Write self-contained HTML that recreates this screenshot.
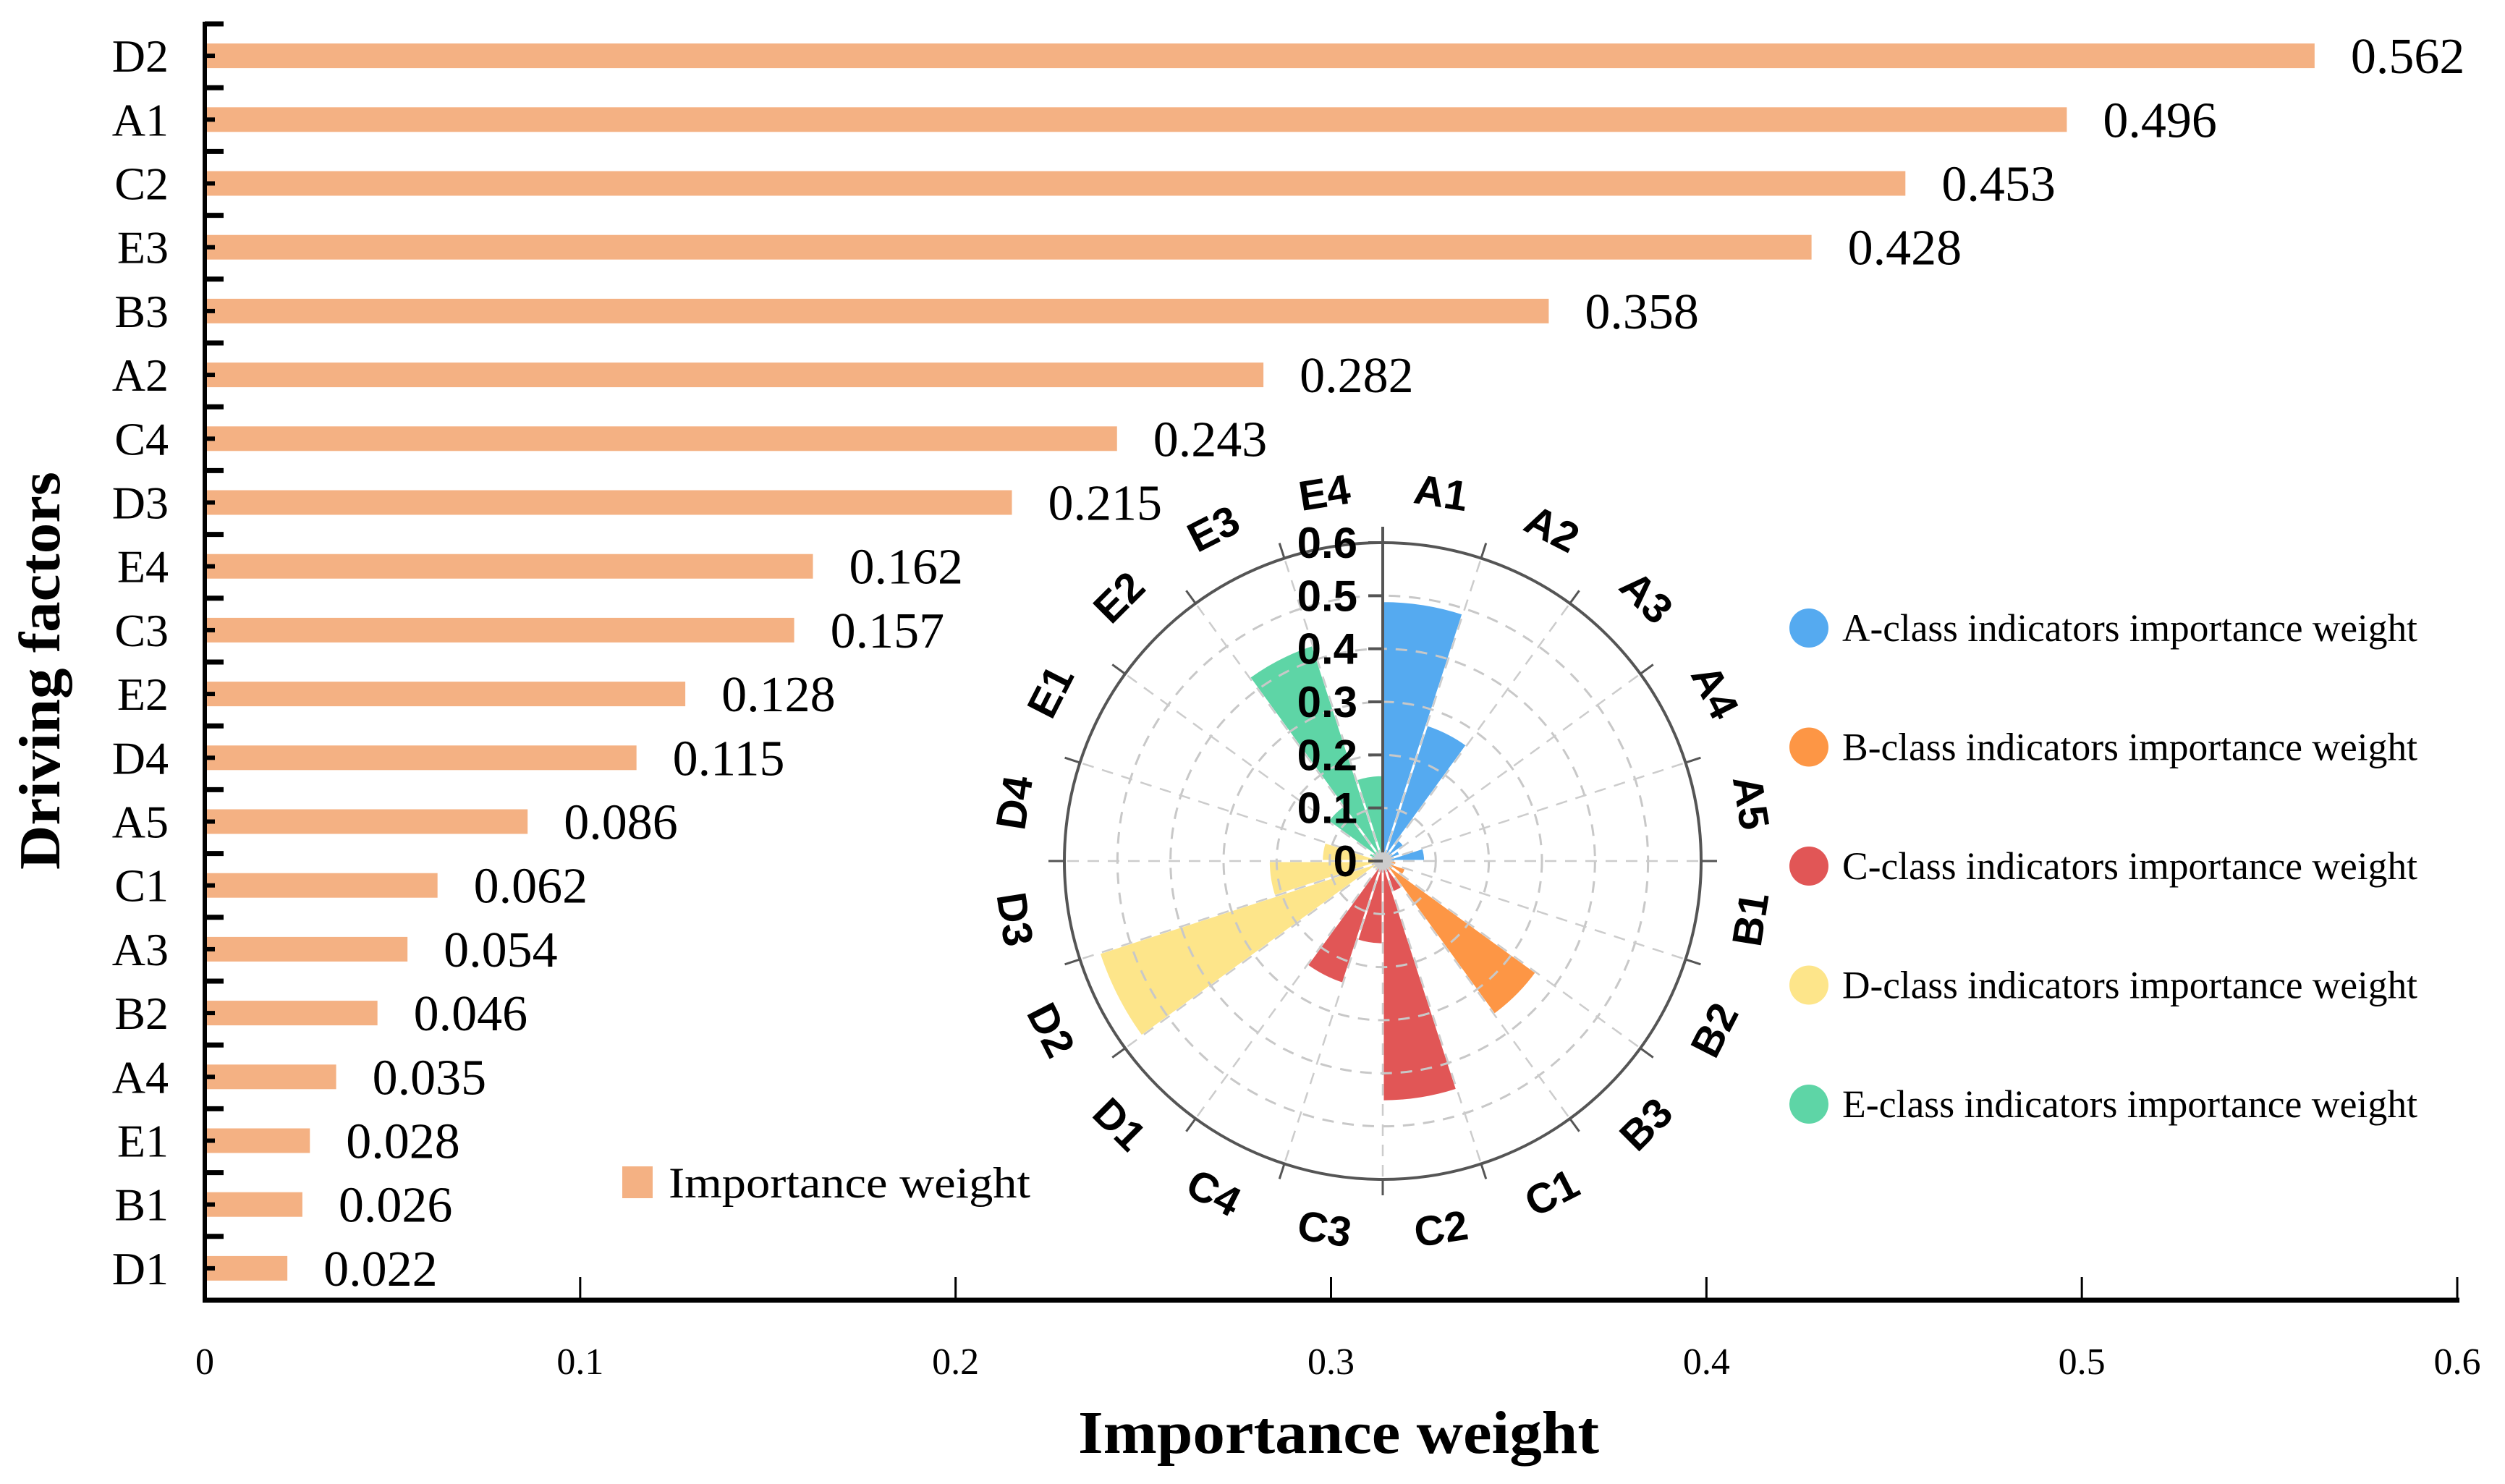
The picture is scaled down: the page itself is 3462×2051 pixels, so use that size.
<!DOCTYPE html>
<html><head><meta charset="utf-8"><style>
html,body{margin:0;padding:0;background:#fff}
svg{display:block}
</style></head><body>
<svg id="chart" width="3462" height="2051" viewBox="0 0 3462 2051" xmlns="http://www.w3.org/2000/svg">
<rect width="3462" height="2051" fill="#fff"/>
<g id="bars"></g>
<g id="polar"></g>
<g id="legend"></g>
</svg>
<script>
const categories = ["D2","A1","C2","E3","B3","A2","C4","D3","E4","C3","E2","D4","A5","C1","A3","B2","A4","E1","B1","D1"];
const values = [0.562,0.496,0.453,0.428,0.358,0.282,0.243,0.215,0.162,0.157,0.128,0.115,0.086,0.062,0.054,0.046,0.035,0.028,0.026,0.022];
const xTicks = [0,0.1,0.2,0.3,0.4,0.5,0.6];
const xTickLabels = ["0","0.1","0.2","0.3","0.4","0.5","0.6"];
const polarCategories = ["A1","A2","A3","A4","A5","B1","B2","B3","C1","C2","C3","C4","D1","D2","D3","D4","E1","E2","E3","E4"];
const polarValues = [0.49,0.27,0.05,0.035,0.08,0.026,0.046,0.358,0.062,0.453,0.157,0.243,0.022,0.562,0.215,0.115,0.028,0.128,0.428,0.162];
const rTicks = [0,0.1,0.2,0.3,0.4,0.5,0.6];
const rTickLabels = ["0","0.1","0.2","0.3","0.4","0.5","0.6"];
const legendLabels = ["A-class indicators importance weight","B-class indicators importance weight","C-class indicators importance weight","D-class indicators importance weight","E-class indicators importance weight"];
const classColors = {A:"#55aaf0",B:"#fd9645",C:"#e15656",D:"#fde58a",E:"#5ed5a6"};

const NS="http://www.w3.org/2000/svg";
function mk(parent,tag,attrs,text){const e=document.createElementNS(NS,tag);for(const k in attrs)e.setAttribute(k,attrs[k]);if(text!==undefined)e.textContent=text;parent.appendChild(e);return e;}

// ---- bar chart ----
const X0=283, X1=3396, Y0=33, Y1=1797;
const xMax=0.6;
const xs=v=>X0+(v/xMax)*(X1-X0);
const band=(Y1-Y0)/categories.length;
const ys=i=>Y0+band*(i+0.5);
const gB=document.getElementById('bars');
const serif='"Liberation Serif", serif';

categories.forEach((c,i)=>{
  const b=mk(gB,'rect',{x:X0,y:ys(i)-17,width:xs(values[i])-X0,height:34,fill:'#f4b183'});
  
  
  const v=mk(gB,'text',{x:xs(values[i])+50,y:ys(i)+24,'font-family':serif,'font-size':70,fill:'#000'},values[i].toFixed(3));
  
  
  const l=mk(gB,'text',{x:233,y:ys(i)+22,'text-anchor':'end','font-family':serif,'font-size':64,fill:'#000'},c);
  
  
  const t=mk(gB,'line',{x1:X0,x2:X0+14,y1:ys(i),y2:ys(i),stroke:'#000','stroke-width':6});
  
  
});
for(let i=0;i<categories.length;i++){
  const yy=Y0+band*i;
  const t=mk(gB,'line',{x1:X0,x2:X0+26,y1:yy,y2:yy,stroke:'#000','stroke-width':7});
  
  
}
const ya=mk(gB,'line',{x1:X0,x2:X0,y1:Y0-3,y2:Y1+3,stroke:'#000','stroke-width':6});


const xa=mk(gB,'line',{x1:X0-3,x2:X1+3,y1:Y1,y2:Y1,stroke:'#000','stroke-width':7});


xTicks.forEach((v,i)=>{
  const t=mk(gB,'line',{x1:xs(v),x2:xs(v),y1:Y1,y2:Y1-32,stroke:'#000','stroke-width':3});
  
  
  const l=mk(gB,'text',{x:xs(v),y:1899,'text-anchor':'middle','font-family':serif,'font-size':52,fill:'#000'},xTickLabels[i]);
  
  
});
const xt=mk(gB,'text',{x:1850,y:2008,'text-anchor':'middle','font-family':serif,'font-size':84,'font-weight':'bold',fill:'#000',textLength:720,lengthAdjust:'spacingAndGlyphs'},'Importance weight');


const yt=mk(gB,'text',{x:0,y:0,'text-anchor':'middle','font-family':serif,'font-size':80,'font-weight':'bold',fill:'#000',textLength:550,lengthAdjust:'spacingAndGlyphs',transform:'translate(82,927) rotate(-90)'},'Driving factors');


const lr=mk(gB,'rect',{x:860,y:1612,width:42,height:44,fill:'#f4b183'});


const lt=mk(gB,'text',{x:924,y:1655,'font-family':serif,'font-size':60,fill:'#000',textLength:500,lengthAdjust:'spacingAndGlyphs'},'Importance weight');



// ---- polar chart ----
const CX=1911, CY=1190, R=440, rMax=0.6;
const gP=document.getElementById('polar');
const n=polarCategories.length, step=360/n;
const rs=v=>v/rMax*R;
const pt=(deg,r)=>{const a=deg*Math.PI/180;return [CX+r*Math.sin(a),CY-r*Math.cos(a)];};
polarCategories.forEach((c,i)=>{
  const a0=i*step, a1=(i+1)*step, r=rs(polarValues[i]);
  const p0=pt(a0,r), p1=pt(a1,r);
  const w=mk(gP,'path',{d:`M${CX},${CY} L${p0[0]},${p0[1]} A${r},${r} 0 0 1 ${p1[0]},${p1[1]} Z`,fill:classColors[c[0]],stroke:'#fff','stroke-width':3});
  
  
});
rTicks.slice(1,-1).forEach(v=>{
  const c=mk(gP,'circle',{cx:CX,cy:CY,r:rs(v),fill:'none',stroke:'#c8c8c8','stroke-width':3,'stroke-dasharray':'16 12'});
  
  
});
for(let i=0;i<n;i++){
  const p=pt(i*step,R);
  const l=mk(gP,'line',{x1:CX,y1:CY,x2:p[0],y2:p[1],stroke:'#cccccc','stroke-width':2.5,'stroke-dasharray':'16 12'});
  
  
  const q0=pt(i*step,R), q1=pt(i*step,R+22);
  const t=mk(gP,'line',{x1:q0[0],y1:q0[1],x2:q1[0],y2:q1[1],stroke:'#555','stroke-width':3});
  
  
}
const oc=mk(gP,'circle',{cx:CX,cy:CY,r:R,fill:'none',stroke:'#555','stroke-width':4});


const ra=mk(gP,'line',{x1:CX,y1:CY,x2:CX,y2:CY-R-22,stroke:'#555','stroke-width':4});


const cd=mk(gP,'circle',{cx:CX,cy:CY,r:12,fill:'#ccc'});


rTicks.forEach((v,i)=>{
  const y=CY-rs(v);
  const t=mk(gP,'line',{x1:CX-20,x2:CX,y1:y,y2:y,stroke:'#555','stroke-width':4});
  
  
  const l=mk(gP,'text',{x:CX-35,y:y+21,'text-anchor':'end','font-family':'"Liberation Sans", sans-serif','font-size':60,'font-weight':'bold',fill:'#000'},rTickLabels[i]);
  
  
});
polarCategories.forEach((c,i)=>{
  const a=(i+0.5)*step;
  const p=pt(a,515);
  let rot = (a>90 && a<270) ? a-180 : a;
  const l=mk(gP,'text',{x:0,y:0,'text-anchor':'middle','dominant-baseline':'central','font-family':'"Liberation Sans", sans-serif','font-size':58,'font-weight':'bold',fill:'#000',transform:`translate(${p[0]},${p[1]}) rotate(${rot})`},c);
  
  
});

// ---- class legend ----
const gL=document.getElementById('legend');
const classKeys=["A","B","C","D","E"];
legendLabels.forEach((t,i)=>{
  const y=868+i*164.5;
  const c=mk(gL,'circle',{cx:2500,cy:y,r:27,fill:classColors[classKeys[i]]});
  
  
  const l=mk(gL,'text',{x:2546,y:y+18,'font-family':serif,'font-size':54,fill:'#000',textLength:795,lengthAdjust:'spacingAndGlyphs'},t);
  
  
});
</script>
</body></html>
